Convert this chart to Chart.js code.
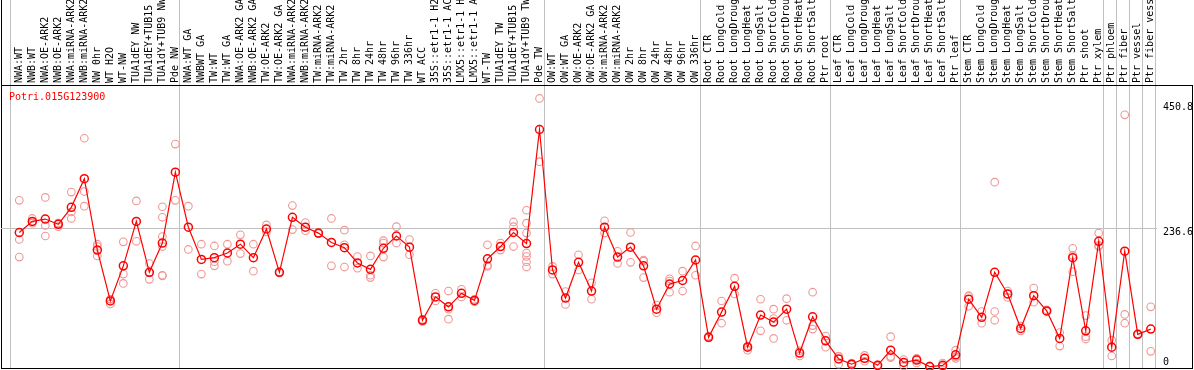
<!DOCTYPE html>
<html>
<head>
<meta charset="utf-8">
<script src="https://cdn.jsdelivr.net/npm/chart.js@4/dist/chart.umd.min.js"></script>
<style>
  body { margin: 0; background: #fff; }
  canvas { display: block; }
</style>
</head>
<body>
<canvas id="geneChart" width="1194" height="370"></canvas>
<script>
// 基因名稱
let geneId = 'Potri.015G123900'

// 樣本名稱 (x軸)
let categories = [
    'NWA:WT', 'NWB:WT', 'NWA:OE-ARK2', 'NWB:OE-ARK2', 'NWA:miRNA-ARK2', 'NWB:miRNA-ARK2', 'NW 0hr', 'WT H2O', 'WT-NW',
    'TUA1dEY NW', 'TUA1dEY+TUB15', 'TUA1dY+TUB9 NW', 'Pde NW',
    'NWA:WT GA', 'NWBWT GA', 'TW:WT', 'TW:WT GA', 'NWA:OE-ARK2 GA', 'NWB:OE-ARK2 GA', 'TW:OE-ARK2', 'TW:OE-ARK2 GA',
    'NWA:miRNA-ARK2', 'NWB:miRNA-ARK2', 'TW:miRNA-ARK2', 'TW:miRNA-ARK2', 'TW 2hr', 'TW 8hr', 'TW 24hr', 'TW 48hr',
    'TW 96hr', 'TW 336hr', 'WT ACC', '35S::etr1-1 H2O', '35S::etr1-1 ACC', 'LMX5::etr1-1 H2O', 'LMX5::etr1-1 ACC',
    'WT-TW', 'TUA1dEY TW', 'TUA1dEY+TUB15', 'TUA1dY+TUB9 TW', 'Pde TW',
    'OW:WT', 'OW:WT GA', 'OW:OE-ARK2', 'OW:OE-ARK2 GA', 'OW:miRNA-ARK2', 'OW:miRNA-ARK2', 'OW 2hr', 'OW 8hr',
    'OW 24hr', 'OW 48hr', 'OW 96hr', 'OW 336hr',
    'Root CTR', 'Root LongCold', 'Root LongDrought', 'Root LongHeat', 'Root LongSalt', 'Root ShortCold',
    'Root ShortDrought', 'Root ShortHeat', 'Root ShortSalt', 'Ptr root',
    'Leaf CTR', 'Leaf LongCold', 'Leaf LongDrought', 'Leaf LongHeat', 'Leaf LongSalt', 'Leaf ShortCold',
    'Leaf ShortDrought', 'Leaf ShortHeat', 'Leaf ShortSalt', 'Ptr leaf',
    'Stem CTR', 'Stem LongCold', 'Stem LongDrought', 'Stem LongHeat', 'Stem LongSalt', 'Stem ShortCold',
    'Stem ShortDrought', 'Stem ShortHeat', 'Stem ShortSalt', 'Ptr shoot', 'Ptr xylem',
    'Ptr phloem', 'Ptr fiber', 'Ptr vessel', 'Ptr fiber vessel'
]

// 各組最後一個樣本的index (分隔線)
let groupEnds = [-1, 12, 40, 52, 62, 72, 83, 84, 85, 86, 87]

// 平均值
let meanValues = [
    229, 248, 252, 243, 272, 321, 199, 112, 172, 248, 161, 211, 332,
    238, 183, 186, 194, 209, 186, 235, 161, 255, 238, 228, 212, 203, 177, 166, 202, 223, 204, 79, 119, 102, 125, 113, 184, 205, 229, 210, 405,
    165, 117, 178, 129, 238, 187, 204, 172, 98, 141, 147, 182,
    50, 93, 137, 33, 88, 76, 98, 23, 85, 44,
    13, 4, 14, 2, 28, 7, 11, 0, 2, 20,
    115, 84, 161, 124, 65, 121, 95, 48, 186, 61, 214,
    33, 197, 55, 64
]

// 重複樣本
let replicateValues = [
    [284, 217, 187], [253, 245, 248], [289, 241, 223], [245, 239, 245], [298, 264, 253], [390, 299, 274],
    [209, 205, 189], [115, 107, 115], [213, 158, 142], [283, 214], [176, 149, 160],
    [273, 255, 222, 205, 156, 155], [380, 284],
    [274, 200], [209, 158], [206, 179, 172], [209, 180], [225, 193], [209, 163], [242, 230], [162, 160],
    [275, 234], [246, 232], [228, 227], [253, 172], [233, 208, 170], [188, 168], [189, 156, 152],
    [215, 211, 187], [239, 211], [217, 191], [80, 77, 81], [125, 112], [129, 98, 81], [132, 119], [115, 111],
    [208, 173, 171], [211, 199], [247, 239, 205], [267, 245, 228, 194, 188, 179, 170], [458, 350],
    [171, 158], [128, 106], [191, 165], [143, 115], [249, 228], [197, 176], [229, 178], [182, 180, 152],
    [105, 92], [150, 127, 146], [163, 129], [206, 156],
    [49, 52], [112, 74], [151, 124], [35, 28, 35], [115, 61], [98, 82, 48], [116, 79], [27, 18],
    [127, 70, 64], [52, 33],
    [18, 4, 17], [4, 3, 6], [19, 9], [2, 1, 3], [51, 15, 17], [12, 1], [14, 6, 13], [0, 1, 0], [6, 0, 0],
    [28, 14, 17],
    [121, 103, 120], [94, 74], [315, 94, 79], [118, 129, 124], [61, 69], [134, 110], [97, 94], [58, 35],
    [202, 190, 162], [87, 51, 47], [228, 207, 205],
    [45, 18], [430, 89, 74], [56, 54], [102, 26]
]

// y軸刻度
let yTickValues = [0, 236.6, 450.8]

// 軸範圍
let xMin = -1.407
let xMax = 87.48
let yMin = -2.5
let yMax = 481

let fontSet = { family: 'DejaVu Sans Mono', size: 10 }
let gridGray = 'rgb(192, 192, 192)'

// 主線資料
let meanPoints = meanValues.map((v, i) => ({ x: i, y: v }))

// 重複樣本資料
let repPoints = []
replicateValues.forEach(function (reps, i) {
    reps.forEach(function (v) {
        repPoints.push({ x: i, y: v })
    })
})

// 分隔線位置
let sepValues = groupEnds.map(g => g + 0.35)
function isSep(v) {
    return sepValues.some(s => Math.abs(s - v) < 1e-6)
}

function xLineColor(c) {
    const v = c.tick ? c.tick.value : null
    if (v === xMin) return '#000'
    if (v !== null && isSep(v)) return gridGray
    return 'transparent'
}

// 基因名稱 (畫在圖內左上)
let geneTitlePlugin = {
    id: 'geneTitle',
    afterDatasetsDraw(chart) {
        const ctx = chart.ctx
        const area = chart.chartArea
        ctx.save()
        ctx.font = '10px "DejaVu Sans Mono"'
        ctx.fillStyle = '#ff0000'
        ctx.textBaseline = 'middle'
        ctx.textAlign = 'left'
        ctx.fillText(geneId, area.left + 8, area.top + 12)
        ctx.restore()
    }
}

var ctx = document.getElementById('geneChart').getContext('2d')
var geneChart = new Chart(ctx, {
    type: 'line',
    data: {
        datasets: [
            {
                label: 'mean',
                data: meanPoints,
                borderColor: '#ff0000',
                borderWidth: 1.2,
                pointRadius: 4,
                pointBorderWidth: 1.5,
                pointBorderColor: '#ff0000',
                pointBackgroundColor: 'transparent',
                tension: 0,
                clip: false
            },
            {
                label: 'replicates',
                data: repPoints,
                showLine: false,
                borderColor: 'rgb(240, 150, 150)',
                pointRadius: 3.8,
                pointBorderWidth: 1.1,
                pointBorderColor: 'rgb(240, 150, 150)',
                pointBackgroundColor: 'transparent',
                clip: false
            }
        ]
    },
    options: {
        responsive: false,
        devicePixelRatio: 1,
        animation: false,
        layout: {
            autoPadding: false,
            padding: { left: 1, right: 1, top: 0, bottom: 2 }
        },
        plugins: {
            legend: { display: false },
            tooltip: { enabled: false }
        },
        scales: {
            x: {
                type: 'linear',
                position: 'top',
                min: xMin,
                max: xMax,
                afterBuildTicks: function (scale) {
                    let ticks = [{ value: xMin }]
                    for (let k = -1; k < categories.length; k++) {
                        if (k >= 0) ticks.push({ value: k })
                        ticks.push({ value: k + 0.35 })
                    }
                    scale.ticks = ticks
                },
                afterFit: function (scale) {
                    scale.height = 85
                    scale.paddingLeft = 0
                    scale.paddingRight = 0
                },
                ticks: {
                    autoSkip: false,
                    minRotation: 90,
                    maxRotation: 90,
                    padding: -83,
                    labelOffset: 12,
                    color: '#000',
                    font: fontSet,
                    callback: function (value) {
                        return Number.isInteger(value) ? categories[value] : ''
                    }
                },
                grid: {
                    drawOnChartArea: true,
                    tickLength: 85,
                    lineWidth: 1,
                    color: xLineColor,
                    tickColor: xLineColor
                },
                border: { display: true, color: '#000', width: 1 }
            },
            y: {
                type: 'linear',
                position: 'right',
                min: yMin,
                max: yMax,
                afterBuildTicks: function (scale) {
                    scale.ticks = [yMin].concat(yTickValues, [yMax]).map(v => ({ value: v }))
                },
                afterFit: function (scale) {
                    scale.width = 35
                },
                ticks: {
                    padding: -29,
                    color: '#000',
                    font: { family: 'DejaVu Sans Mono', size: 10, lineHeight: 0.9 },
                    callback: function (value) {
                        if (value === yMin || value === yMax) return ''
                        // 0 放在線上方, 其他放線下方
                        if (value === 0) return ['0', '']
                        return ['', String(value)]
                    }
                },
                grid: {
                    drawOnChartArea: true,
                    tickLength: 35,
                    lineWidth: 1,
                    color: function (c) {
                        const v = c.tick ? c.tick.value : null
                        if (v === yMin || v === yMax) return '#000'
                        if (v === 236.6) return gridGray
                        return 'transparent'
                    },
                    tickColor: function (c) {
                        const v = c.tick ? c.tick.value : null
                        if (v === yMin || v === yMax) return '#000'
                        return 'transparent'
                    }
                },
                border: { display: false }
            },
            // 右邊框線
            yFrame: {
                type: 'linear',
                position: 'right',
                weight: 1,
                min: yMin,
                max: yMax,
                afterFit: function (scale) {
                    scale.width = 1
                },
                ticks: { display: false },
                grid: { drawOnChartArea: false, drawTicks: false },
                border: { display: true, color: '#000', width: 1 }
            }
        }
    },
    plugins: [geneTitlePlugin]
})
</script>
</body>
</html>
